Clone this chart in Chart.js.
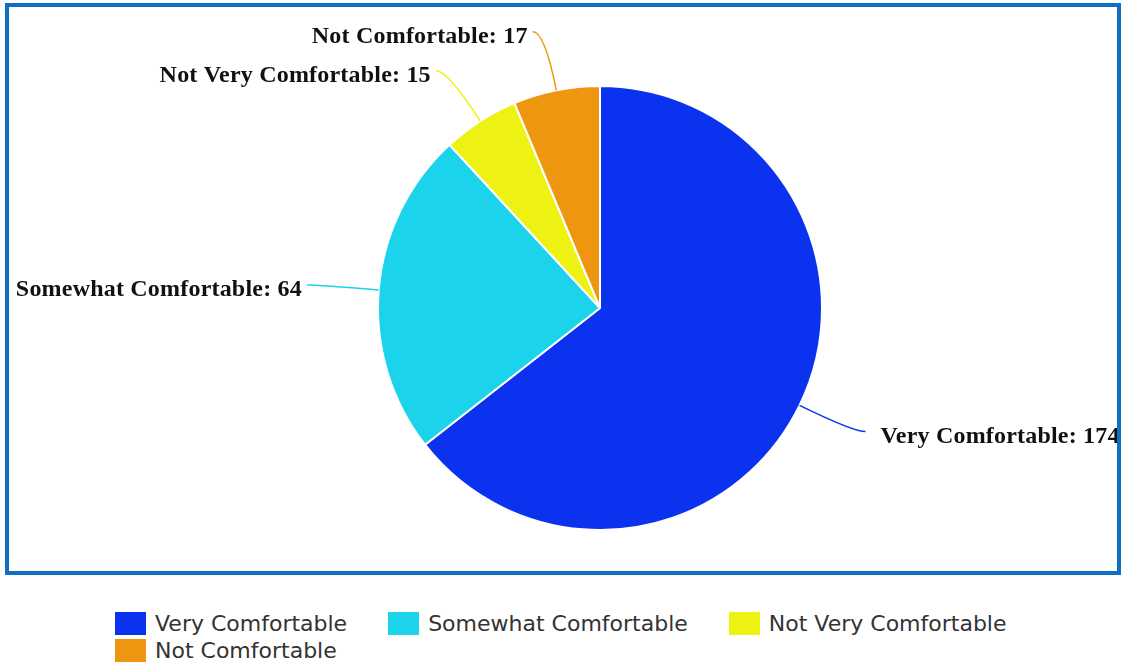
<!DOCTYPE html>
<html>
<head>
<meta charset="utf-8">
<script src="https://cdn.jsdelivr.net/npm/chart.js@4.4.1/dist/chart.umd.min.js"></script>
<style>
    body { margin: 0; background: #fff; width: 1121px; height: 664px; overflow: hidden; position: relative; }
    #frame { position: absolute; left: 5px; top: 3px; width: 1116px; height: 572px; border: 4px solid #0f6fc3; box-sizing: border-box; }
    #frame .inner { position: relative; width: 1108px; height: 564px; }
    #legend { position: absolute; left: 115px; top: 611px; width: 920px; display: flex; flex-wrap: wrap; column-gap: 41px; row-gap: 3px;
              font-family: "DejaVu Sans", sans-serif; font-size: 22px; color: #333; }
    #legend .item { display: flex; align-items: center; height: 24px; }
    #legend .box { width: 31px; height: 23px; margin-right: 9px; }
</style>
</head>
<body>
<div id="frame"><div class="inner"><canvas id="pie"></canvas></div></div>
<div id="legend"></div>
<script>
const categories = ['Very Comfortable', 'Somewhat Comfortable', 'Not Very Comfortable', 'Not Comfortable'];
const counts = [174, 64, 15, 17];
const colors = ['#0b32ee', '#1cd3ec', '#eef212', '#ee9610'];

// labels outside the pie with curved leader lines
const outsideLabels = {
    id: 'outsideLabels',
    afterDatasetsDraw(chart) {
        const ctx = chart.ctx;
        const meta = chart.getDatasetMeta(0);
        ctx.save();
        ctx.font = 'bold 24px "Liberation Serif", serif';
        ctx.letterSpacing = '0.2px';
        ctx.fillStyle = '#111';
        ctx.textBaseline = 'middle';
        meta.data.forEach((arc, i) => {
            const {x, y, startAngle, endAngle, outerRadius} = arc.getProps(['x', 'y', 'startAngle', 'endAngle', 'outerRadius']);
            const mid = (startAngle + endAngle) / 2;
            const cos = Math.cos(mid), sin = Math.sin(mid);
            const sx = x + outerRadius * cos, sy = y + outerRadius * sin;
            const ext = outerRadius + 60;
            const cx = x + ext * cos, cy = y + ext * sin;
            const right = cos >= 0;
            const ex = cx + (right ? 12 : -12), ey = cy;
            ctx.strokeStyle = colors[i];
            ctx.lineWidth = 1.5;
            ctx.beginPath();
            ctx.moveTo(sx, sy);
            ctx.quadraticCurveTo(cx, cy, ex, ey);
            ctx.stroke();
            ctx.textAlign = right ? 'left' : 'right';
            ctx.fillText(categories[i] + ': ' + counts[i], ex + (right ? 15 : -5), ey + 5);
        });
        ctx.restore();
    }
};

const chart = new Chart(document.getElementById('pie'), {
    type: 'pie',
    data: {
        labels: categories,
        datasets: [{
            data: counts,
            backgroundColor: colors,
            borderColor: '#fff',
            borderWidth: 2
        }]
    },
    options: {
        responsive: true,
        maintainAspectRatio: false,
        animation: false,
        layout: { padding: { top: 78, bottom: 40, left: 291, right: 217 } },
        plugins: {
            legend: { display: false },
            tooltip: { enabled: false }
        }
    },
    plugins: [outsideLabels]
});

// html legend from the chart data
const legendEl = document.getElementById('legend');
chart.data.labels.forEach((label, i) => {
    const item = document.createElement('div');
    item.className = 'item';
    item.innerHTML = `<span class="box" style="background:${colors[i]}"></span><span>${label}</span>`;
    legendEl.appendChild(item);
});
</script>
</body>
</html>
